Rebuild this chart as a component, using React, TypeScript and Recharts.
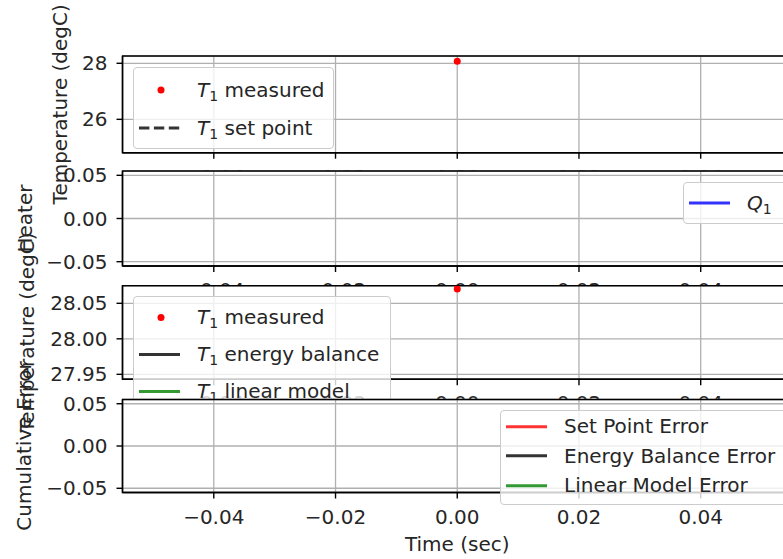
import React from 'react';
import {
  ComposedChart,
  Line,
  XAxis,
  YAxis,
  CartesianGrid,
  ReferenceArea,
  Legend,
  Label,
} from 'recharts';

// one sample at t = 0
const time = [0];
const t1Measured = [28.07];
const t1SetPoint = [24.9];
const q1 = [0];
const t1EnergyBalance = [27.95];
const t1LinearModel = [27.95];
const setPointError = [0];
const energyBalanceError = [0];
const linearModelError = [0];

const xTicks = [-0.04, -0.02, 0, 0.02, 0.04];
const tempTicks = [26, 28];
const zeroTicks = [-0.05, 0, 0.05];
const modelTicks = [27.95, 28.0, 28.05];

const X_DOMAIN: [number, number] = [-0.055, 0.055];

const rows = time.map((t, i) => ({
  t,
  meas: t1Measured[i],
  sp: t1SetPoint[i],
  q1: q1[i],
  eb: t1EnergyBalance[i],
  lin: t1LinearModel[i],
  spErr: setPointError[i],
  ebErr: energyBalanceError[i],
  linErr: linearModelError[i],
}));

const FONT = "'DejaVu Sans', sans-serif";
const TEXT = '#262626';
const GRID = '#b0b0b0';
const FS = 20;

const RED = '#ff0000';
const RED_LINE = '#ff3333';
const BLACK_LINE = '#333333';
const GREEN_LINE = '#339933';
const BLUE_LINE = '#3333ff';

const minus = (s: string) => s.replace('-', '\u2212');
const fmt0 = (v: number) => minus(v.toFixed(0));
const fmt2 = (v: number) => minus(v.toFixed(2));

const tickStyle = { fill: TEXT, fontSize: FS, fontFamily: FONT };
const spine = { stroke: '#000', strokeWidth: 1.4 };

// a single-sample line draws nothing in matplotlib, so no marker either
const noDot = (p: any) => <g key={`nd-${p.index}`} />;
const redDot = (p: any) => <circle key={`rd-${p.index}`} cx={p.cx} cy={p.cy} r={3.5} fill={RED} />;

const Sub1 = () => <span style={{ fontSize: '0.7em', position: 'relative', top: '0.3em' }}>1</span>;

const T1 = (rest: string) => (
  <>
    <i>T</i>
    <Sub1 />
    {' ' + rest}
  </>
);

type LegendItem = { label: React.ReactNode; kind: 'dot' | 'line' | 'dash'; color: string };

function LegendBox({ items, width, height, rowH, padTop }: {
  items: LegendItem[]; width: number; height: number; rowH: number; padTop: number;
}) {
  return (
    <div
      style={{
        boxSizing: 'border-box',
        width,
        height,
        paddingTop: padTop,
        background: 'rgba(255,255,255,0.8)',
        border: '1px solid #cccccc',
        borderRadius: 4,
        fontFamily: FONT,
        fontSize: FS,
        color: TEXT,
        overflow: 'hidden',
      }}
    >
      {items.map((it, i) => (
        <div key={i} style={{ display: 'flex', alignItems: 'center', height: rowH, whiteSpace: 'nowrap' }}>
          <svg width={63} height={rowH} style={{ flex: 'none', display: 'block' }}>
            {it.kind === 'dot' ? (
              <circle cx={27} cy={rowH / 2} r={3.5} fill={it.color} />
            ) : (
              <line
                x1={5}
                x2={46}
                y1={rowH / 2}
                y2={rowH / 2}
                stroke={it.color}
                strokeWidth={2.8}
                strokeDasharray={it.kind === 'dash' ? '10.4 4.5' : undefined}
              />
            )}
          </svg>
          <span>{it.label}</span>
        </div>
      ))}
    </div>
  );
}

interface PanelProps {
  top: number;
  bottom: number;
  yDomain: [number, number];
  yTicks: number[];
  yFmt: (v: number) => string;
  yLabel: string;
  yLabelX: number;
  xLabel?: string;
  axisHeight?: number;
  legend: { left: number; top: number; width: number; height: number; rowH: number; padTop: number; items: LegendItem[] };
  children: React.ReactNode;
}

function Panel({ top, bottom, yDomain, yTicks, yFmt, yLabel, yLabelX, xLabel, axisHeight = 60, legend, children }: PanelProps) {
  return (
    <div style={{ position: 'absolute', left: 0, top: 0 }}>
      <ComposedChart width={800} height={bottom + axisHeight} data={rows} margin={{ top, right: 8, bottom: 0, left: 0 }}>
        <CartesianGrid fill="#ffffff" fillOpacity={1} stroke={GRID} strokeWidth={1.3} />
        <XAxis
          type="number"
          dataKey="t"
          domain={X_DOMAIN}
          ticks={xTicks}
          interval={0}
          allowDataOverflow
          height={axisHeight}
          tickSize={6}
          tickMargin={11}
          tickFormatter={fmt2}
          tick={tickStyle}
          axisLine={spine}
          tickLine={spine}
        >
          {xLabel && (
            <Label
              content={(p: any) => {
                const vb = p.viewBox;
                return (
                  <text x={vb.x + vb.width / 2} y={vb.y + 58} textAnchor="middle" fill={TEXT} fontSize={FS} fontFamily={FONT}>
                    {xLabel}
                  </text>
                );
              }}
            />
          )}
        </XAxis>
        <YAxis
          type="number"
          domain={yDomain}
          ticks={yTicks}
          interval={0}
          allowDataOverflow
          width={122.5}
          tickSize={6}
          tickMargin={9}
          tickFormatter={yFmt}
          tick={tickStyle}
          axisLine={spine}
          tickLine={spine}
        >
          <Label
            content={(p: any) => {
              const vb = p.viewBox;
              const cy = vb.y + vb.height / 2;
              return (
                <text
                  x={yLabelX}
                  y={cy}
                  dy="0.36em"
                  transform={`rotate(-90 ${yLabelX} ${cy})`}
                  textAnchor="middle"
                  fill={TEXT}
                  fontSize={FS}
                  fontFamily={FONT}
                >
                  {yLabel}
                </text>
              );
            }}
          />
        </YAxis>
        <ReferenceArea
          x1={X_DOMAIN[0]}
          x2={X_DOMAIN[1]}
          y1={yDomain[0]}
          y2={yDomain[1]}
          fill="none"
          stroke="#000"
          strokeWidth={1.4}
          ifOverflow="visible"
        />
        {children}
        <Legend
          layout="vertical"
          align="center"
          verticalAlign="middle"
          wrapperStyle={{ left: legend.left, top: legend.top, width: legend.width, height: legend.height }}
          content={() => (
            <LegendBox
              items={legend.items}
              width={legend.width}
              height={legend.height}
              rowH={legend.rowH}
              padTop={legend.padTop}
            />
          )}
        />
      </ComposedChart>
    </div>
  );
}

export default function App() {
  return (
    <div
      style={{
        position: 'fixed',
        left: 0,
        top: 0,
        width: 783,
        height: 559,
        overflow: 'hidden',
        background: '#fff',
      }}
    >
      <Panel
        top={56}
        bottom={152.7}
        yDomain={[24.81, 28.26]}
        yTicks={tempTicks}
        yFmt={fmt0}
        yLabel="Temperature (degC)"
        yLabelX={60}
        legend={{
          left: 133, top: 66.5, width: 201, height: 82, rowH: 38, padTop: 3,
          items: [
            { label: T1('measured'), kind: 'dot', color: RED },
            { label: T1('set point'), kind: 'dash', color: BLACK_LINE },
          ],
        }}
      >
        <Line dataKey="meas" stroke="none" dot={redDot} activeDot={false} isAnimationActive={false} />
        <Line dataKey="sp" stroke={BLACK_LINE} strokeDasharray="10 4" dot={noDot} activeDot={false} isAnimationActive={false} />
      </Panel>

      <Panel
        top={171}
        bottom={266}
        yDomain={[-0.055, 0.055]}
        yTicks={zeroTicks}
        yFmt={fmt2}
        yLabel="Heater"
        yLabelX={25}
        legend={{
          left: 683, top: 182, width: 110, height: 42, rowH: 40, padTop: 0,
          items: [
            { label: <><i>Q</i><Sub1 /></>, kind: 'line', color: BLUE_LINE },
          ],
        }}
      >
        <Line dataKey="q1" stroke={BLUE_LINE} dot={noDot} activeDot={false} isAnimationActive={false} />
      </Panel>

      <Panel
        top={285.7}
        bottom={379.3}
        yDomain={[27.943, 28.0748]}
        yTicks={modelTicks}
        yFmt={fmt2}
        yLabel="Temperature (degC)"
        yLabelX={27}
        legend={{
          left: 133, top: 295.5, width: 258, height: 122, rowH: 37, padTop: 2,
          items: [
            { label: T1('measured'), kind: 'dot', color: RED },
            { label: T1('energy balance'), kind: 'line', color: BLACK_LINE },
            { label: T1('linear model'), kind: 'line', color: GREEN_LINE },
          ],
        }}
      >
        <Line dataKey="meas" stroke="none" dot={redDot} activeDot={false} isAnimationActive={false} />
        <Line dataKey="eb" stroke={BLACK_LINE} dot={noDot} activeDot={false} isAnimationActive={false} />
        <Line dataKey="lin" stroke={GREEN_LINE} dot={noDot} activeDot={false} isAnimationActive={false} />
      </Panel>

      <Panel
        top={399.5}
        bottom={492.5}
        yDomain={[-0.055, 0.055]}
        yTicks={zeroTicks}
        yFmt={fmt2}
        yLabel="Cumulative Error"
        yLabelX={24}
        xLabel="Time (sec)"
        axisHeight={66}
        legend={{
          left: 500, top: 410, width: 290, height: 95, rowH: 29.5, padTop: 0.5,
          items: [
            { label: 'Set Point Error', kind: 'line', color: RED_LINE },
            { label: 'Energy Balance Error', kind: 'line', color: BLACK_LINE },
            { label: 'Linear Model Error', kind: 'line', color: GREEN_LINE },
          ],
        }}
      >
        <Line dataKey="spErr" stroke={RED_LINE} dot={noDot} activeDot={false} isAnimationActive={false} />
        <Line dataKey="ebErr" stroke={BLACK_LINE} dot={noDot} activeDot={false} isAnimationActive={false} />
        <Line dataKey="linErr" stroke={GREEN_LINE} dot={noDot} activeDot={false} isAnimationActive={false} />
      </Panel>
    </div>
  );
}
